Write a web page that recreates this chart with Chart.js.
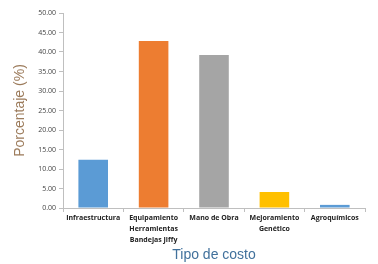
<!DOCTYPE html>
<html>
<head>
<meta charset="utf-8">
<script src="https://cdn.jsdelivr.net/npm/chart.js@4/dist/chart.umd.min.js"></script>
<style>
html,body{margin:0;padding:0;background:#fff;}
#wrap{width:378px;height:264px;}
</style>
</head>
<body>
<div id="wrap"><canvas id="c" width="378" height="264"></canvas></div>
<script>
const categories = [
  ["Infraestructura"],
  ["Equipamiento", "Herramientas", "Bandejas Jiffy"],
  ["Mano de Obra"],
  ["Mejoramiento", "Genético"],
  ["Agroquímicos"]
];
const values = [12.4, 42.8, 39.2, 4.1, 0.8];
const barColors = ["#5B9BD5", "#ED7D31", "#A5A5A5", "#FFC000", "#5B9BD5"];
const yMax = 50;
const yStep = 5;

new Chart(document.getElementById('c'), {
  type: 'bar',
  data: {
    labels: categories,
    datasets: [{
      data: values,
      backgroundColor: barColors,
      borderWidth: 0,
      categoryPercentage: 1,
      barPercentage: 0.49
    }]
  },
  options: {
    responsive: false,
    animation: false,
    devicePixelRatio: 1,
    layout: { padding: { top: 13, right: 13, left: 0, bottom: 0 } },
    plugins: { legend: { display: false }, tooltip: { enabled: false } },
    scales: {
      x: {
        offset: true,
        grid: {
          offset: true,
          drawOnChartArea: false,
          drawTicks: true,
          tickLength: 4,
          color: '#BFBFBF'
        },
        border: { color: '#BFBFBF' },
        ticks: {
          font: { family: 'Open Sans', size: 7, weight: 'bold', lineHeight: 1.55 },
          color: '#222',
          maxRotation: 0,
          autoSkip: false,
          padding: 1
        },
        title: {
          display: true,
          text: 'Tipo de costo',
          color: '#41719C',
          font: { family: 'Liberation Sans', size: 14 },
          padding: { top: 0, bottom: 0 }
        },
        afterFit: s => { s.height = 56; }
      },
      y: {
        min: 0,
        max: yMax,
        ticks: {
          stepSize: yStep,
          callback: v => Number(v).toFixed(2),
          font: { family: 'Open Sans', size: 7 },
          color: '#444',
          padding: 3
        },
        grid: {
          drawOnChartArea: false,
          drawTicks: true,
          tickLength: 4,
          color: '#BFBFBF'
        },
        border: { color: '#BFBFBF' },
        title: {
          display: true,
          text: 'Porcentaje (%)',
          color: '#9C7B5B',
          font: { family: 'Liberation Sans', size: 14 },
          padding: { top: 12, bottom: 8 }
        },
        afterFit: s => { s.width = 63; }
      }
    }
  }
});
</script>
</body>
</html>
